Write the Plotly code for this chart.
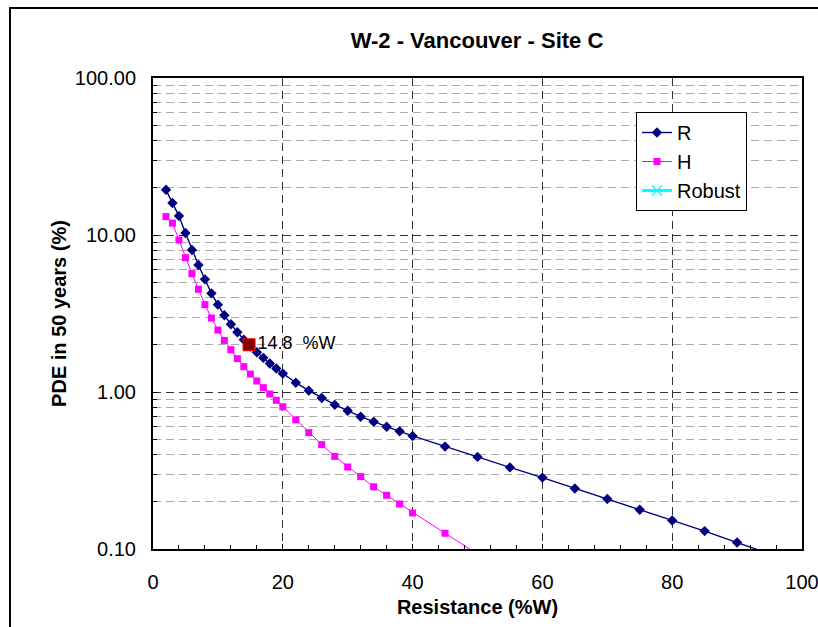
import plotly.graph_objects as go

# ---- data ----
r_x = [2, 3, 4, 5, 6, 7, 8, 9, 10, 11, 12, 13, 14, 15, 16, 17, 18, 19, 20,
       22, 24, 26, 28, 30, 32, 34, 36, 38, 40, 45, 50, 55, 60, 65, 70, 75, 80, 85, 90, 95]
r_y = [19.4, 16.0, 13.2, 10.3, 8.03, 6.44, 5.22, 4.25, 3.60, 3.08, 2.70, 2.40, 2.15, 1.95,
       1.79, 1.65, 1.52, 1.41, 1.31, 1.146, 1.02, 0.916, 0.830, 0.760, 0.696, 0.647, 0.601,
       0.562, 0.525, 0.449, 0.386, 0.331, 0.285, 0.243, 0.208, 0.178, 0.152, 0.130, 0.110, 0.093]

h_x = [2, 3, 4, 5, 6, 7, 8, 9, 10, 11, 12, 13, 14, 15, 16, 17, 18, 19, 20,
       22, 24, 26, 28, 30, 32, 34, 36, 38, 40, 45, 50]
h_y = [13.1, 11.9, 9.29, 7.17, 5.67, 4.51, 3.60, 2.96, 2.48, 2.13, 1.86, 1.63, 1.45, 1.30,
       1.175, 1.066, 0.971, 0.885, 0.805, 0.665, 0.551, 0.462, 0.389, 0.333, 0.289, 0.249,
       0.220, 0.1935, 0.1696, 0.126, 0.093]

point_x = [14.8]
point_y = [2.0]
point_label = ["14.8  %W"]

title = "W-2 - Vancouver - Site C"
x_title = "Resistance (%W)"
y_title = "PDE in 50 years (%)"
y_tickvals = [0.1, 1, 10, 100]
y_ticktext = ["0.10", "1.00", "10.00", "100.00"]
y_minor_vals = [m * d for d in (0.1, 1, 10) for m in range(2, 10)]
x_tickvals = [0, 20, 40, 60, 80, 100]

FONT = "Liberation Sans, Arial, sans-serif"

fig = go.Figure()
fig.add_trace(go.Scatter(
    x=r_x, y=r_y, name="R", mode="lines+markers",
    line=dict(color="#000080", width=1.4),
    marker=dict(symbol="diamond", size=8, color="#000080"),
))
fig.add_trace(go.Scatter(
    x=h_x, y=h_y, name="H", mode="lines+markers",
    line=dict(color="#FF00FF", width=1),
    marker=dict(symbol="square", size=7, color="#FF00FF"),
))
fig.add_trace(go.Scatter(
    x=[None], y=[None], name="Robust", mode="lines+markers",
    line=dict(color="#00FFFF", width=3),
    marker=dict(symbol="x-thin", size=10, color="#00FFFF", line=dict(color="#00FFFF", width=1.5)),
))
fig.add_trace(go.Scatter(
    x=point_x, y=point_y, mode="markers+text", text=point_label,
    textposition="middle right", showlegend=False,
    textfont=dict(size=18, color="black", family=FONT),
    marker=dict(symbol="square", size=12, color="#800000", line=dict(color="#FF0000", width=1)),
))

PL, PR, PT, PB = 153, 802, 78, 549
W, H = 818, 627
pw, ph = PR - PL, PB - PT

def px_x(x):
    return (x - PL) / pw

def px_y(y):
    return (PB - y) / ph

fig.add_shape(type="rect", xref="paper", yref="paper",
              x0=px_x(10), x1=px_x(830), y0=px_y(640), y1=px_y(8),
              line=dict(color="black", width=2), layer="below")

fig.update_layout(
    width=W, height=H,
    margin=dict(l=PL, r=W - PR, t=PT, b=H - PB, autoexpand=False),
    paper_bgcolor="white", plot_bgcolor="white",
    font=dict(family=FONT, color="black", size=20),
    title=dict(text="<b>" + title + "</b>", x=477 / W, xanchor="center",
               y=1 - 40 / H, yanchor="middle", font=dict(size=22, family=FONT)),
    showlegend=True,
    legend=dict(x=px_x(636), y=px_y(112), xanchor="left", yanchor="top",
                bgcolor="white", bordercolor="black", borderwidth=1,
                font=dict(size=20, family=FONT), tracegroupgap=0,
                itemwidth=30),
)

fig.update_xaxes(
    range=[0, 100], tickvals=x_tickvals,
    showline=True, linecolor="black", linewidth=2, mirror=True,
    ticks="inside", ticklen=5, tickcolor="black",
    showgrid=True, gridcolor="#333333", griddash="8px,5px", gridwidth=1,
    zeroline=False,
    minor=dict(dtick=4, ticks="inside", ticklen=4, tickcolor="black", showgrid=False),
    tickfont=dict(size=20, family=FONT),
    ticklabelstandoff=14, ticklabeloverflow="allow",
    title=dict(text="<b>" + x_title + "</b>", font=dict(size=20, family=FONT), standoff=8),
)
fig.update_yaxes(
    type="log", range=[-1, 2], tickvals=y_tickvals, ticktext=y_ticktext,
    showline=True, linecolor="black", linewidth=2, mirror=True,
    ticks="inside", ticklen=5, tickcolor="black",
    showgrid=True, gridcolor="#333333", griddash="8px,5px", gridwidth=1,
    zeroline=False,
    minor=dict(tickvals=y_minor_vals, ticks="inside", ticklen=4, tickcolor="black",
               showgrid=True, gridcolor="#AAAAAA", griddash="8px,5px", gridwidth=1),
    tickfont=dict(size=20, family=FONT),
    ticklabelstandoff=11,
    title=dict(text="<b>" + y_title + "</b>", font=dict(size=20, family=FONT), standoff=3),
)

fig.write_html("out.html")
